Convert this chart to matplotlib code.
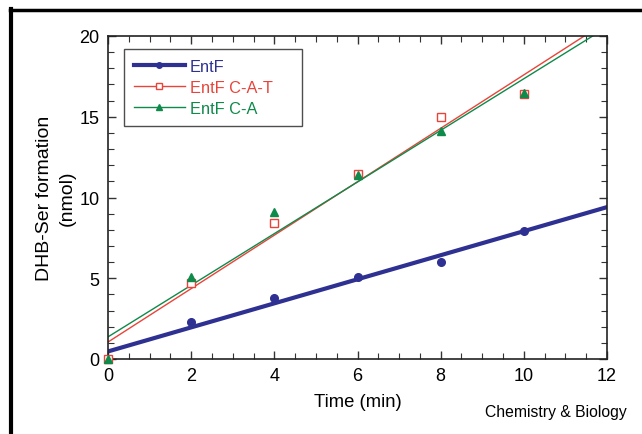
import numpy as np
import matplotlib
matplotlib.use("Agg")
import matplotlib.pyplot as plt
from matplotlib.lines import Line2D
from matplotlib.ticker import MultipleLocator

plt.rcParams['font.family'] = ['Liberation Sans', 'DejaVu Sans']

# time points (min)
time = [0, 2, 4, 6, 8, 10]
# DHB-Ser formation (nmol)
entf = [0.0, 2.31, 3.78, 5.1, 6.03, 7.93]
entf_cat = [0.0, 4.7, 8.42, 11.45, 14.96, 16.4]
entf_ca = [0.0, 5.07, 9.1, 11.4, 14.1, 16.5]

labels = ['EntF', 'EntF C-A-T', 'EntF C-A']
colors = ['#2e3192', '#e8443a', '#0e8a4a']

fig = plt.figure(figsize=(6.42, 4.35), dpi=100)
ax = fig.add_axes([108/642, 1 - 360/435, 499/642, 323/435])

xfit = np.array([0, 13])
series = [entf, entf_cat, entf_ca]
markers = ['o', 's', '^']
handles = []
for y, lab, c, m in zip(series, labels, colors, markers):
    # least-squares line through each series
    slope, icpt = np.polyfit(time, y, 1)
    lw = 3 if lab == 'EntF' else 1
    ax.plot(xfit, slope * xfit + icpt, color=c, lw=lw)
    if m == 's':
        ax.plot(time, y, ls='none', marker=m, ms=5.5, mfc='white', mec=c, mew=1, clip_on=False, zorder=4)
    else:
        ax.plot(time, y, ls='none', marker=m, ms=5.5, color=c, clip_on=False, zorder=4)
    handles.append(Line2D([], [], color=c, lw=lw, marker=m, ms=5 if m != 'o' else 4,
                          mfc='white' if m == 's' else c, mec=c))

ax.set_xlim(0, 12)
ax.set_ylim(0, 20)
ax.xaxis.set_major_locator(MultipleLocator(2))
ax.xaxis.set_minor_locator(MultipleLocator(0.5))
ax.yaxis.set_major_locator(MultipleLocator(5))
ax.yaxis.set_minor_locator(MultipleLocator(1))
ax.tick_params(which='both', direction='in', top=True, right=True, color='#333333')
ax.tick_params(which='major', length=6, width=1, labelsize=13, pad=6)
ax.tick_params(which='minor', length=4, width=0.8)
for s in ax.spines.values():
    s.set_color('#222222')
    s.set_linewidth(1.2)

ax.set_xlabel('Time (min)', fontsize=13.3, labelpad=6)
ax.set_ylabel('DHB-Ser formation\n(nmol)', fontsize=14, labelpad=3, linespacing=1.4)

leg = ax.legend(handles, labels, loc='upper left', bbox_to_anchor=(0.032, 0.6, 0.357, 0.36),
                mode='expand', borderaxespad=0,
                fontsize=11.8, handlelength=3.1, handletextpad=0.3, borderpad=0.6,
                labelspacing=0.38, frameon=True, fancybox=False, edgecolor='#222222')
leg.get_frame().set_linewidth(1)
for t, c in zip(leg.get_texts(), colors):
    t.set_color(c)

fig.text(627/642, 1 - 413/435, 'Chemistry & Biology', fontsize=11.3, ha='right', va='center')

# black frame lines on the left and top of the image
fig.add_artist(Line2D([11/642, 11/642], [0, 1 - 10/435], color='black', lw=3))
fig.add_artist(Line2D([10/642, 1], [1 - 11/435, 1 - 11/435], color='black', lw=2.5))

fig.savefig('out.png', dpi=100)
